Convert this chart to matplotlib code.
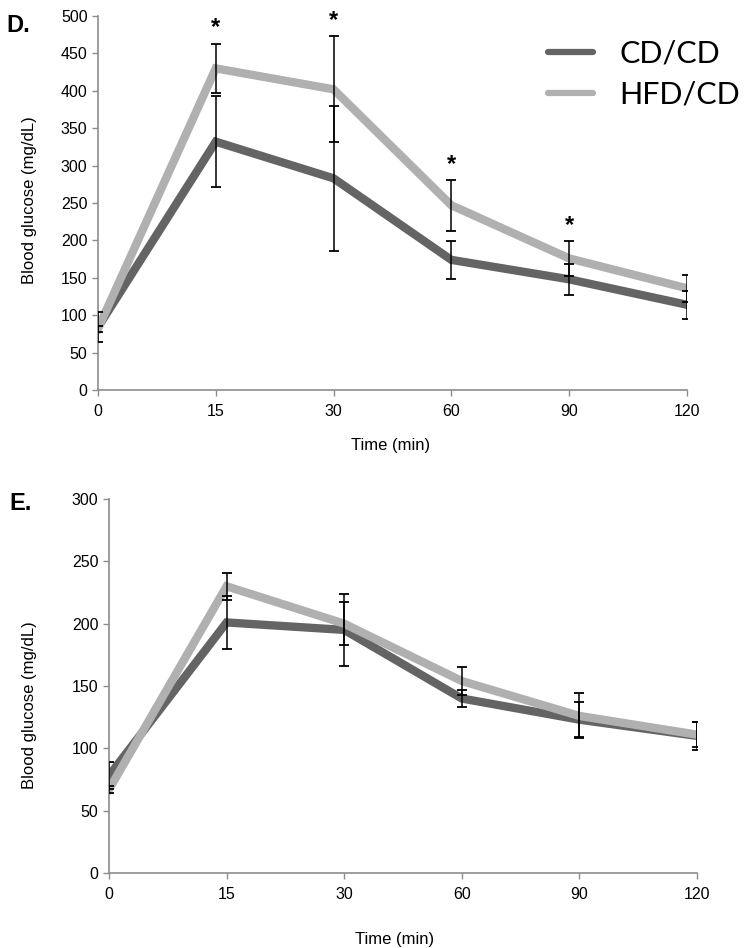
import matplotlib
matplotlib.use("Agg")
import matplotlib.pyplot as plt
from matplotlib.lines import Line2D
import numpy as np

# Glucose tolerance curves
time_labels = ["0", "15", "30", "60", "90", "120"]

d_cd_mean = [84, 332, 283, 174, 148, 114]
d_cd_err = [20, 61, 97, 25, 21, 19]
d_hfd_mean = [82, 430, 402, 247, 176, 136]
d_hfd_err = [4, 33, 71, 34, 23, 18]
d_signif = [False, True, True, True, True, False]

e_cd_mean = [78, 201, 195, 140, 123, 110]
e_cd_err = [11, 21, 29, 7, 14, 11]
e_hfd_mean = [67, 230, 200, 154, 126, 111]
e_hfd_err = [3, 11, 17, 11, 18, 10]

group_names = ["CD/CD", "HFD/CD"]

CD_COLOR = "#646464"
HFD_COLOR = "#b0b0b0"
AXIS_COLOR = "#8c8c8c"
FONT = ["Liberation Sans", "DejaVu Sans"]

plt.rcParams["font.family"] = FONT


def draw_panel(ax, cd_mean, cd_err, hfd_mean, hfd_err, ymax, ystep):
    x = np.arange(len(time_labels))
    ax.plot(x, cd_mean, color=CD_COLOR, lw=6, zorder=2, solid_joinstyle="miter")
    ax.plot(x, hfd_mean, color=HFD_COLOR, lw=6, zorder=2, solid_joinstyle="miter")
    for mean, err in [(cd_mean, cd_err), (hfd_mean, hfd_err)]:
        ax.errorbar(x, mean, yerr=err, fmt="none", ecolor="black",
                    elinewidth=1.1, capsize=3.5, capthick=1.3, zorder=3)

    ax.set_xlim(0, len(time_labels) - 1)
    ax.set_ylim(0, ymax)
    ax.set_xticks(x)
    ax.set_xticklabels(time_labels)
    ax.set_yticks(np.arange(0, ymax + 1, ystep))
    for side in ["top", "right"]:
        ax.spines[side].set_visible(False)
    for side in ["left", "bottom"]:
        ax.spines[side].set_color(AXIS_COLOR)
        ax.spines[side].set_linewidth(1.2)
    ax.tick_params(axis="both", colors=AXIS_COLOR, labelcolor="black",
                   labelsize=11.5, length=4, width=1.0, direction="out")
    ax.tick_params(axis="x", pad=6)
    ax.set_xlabel("Time (min)", fontsize=12)
    ax.set_ylabel("Blood glucose (mg/dL)", fontsize=12)


fig = plt.figure(figsize=(7.45, 9.48), dpi=100)

# Panel D
ax_d = fig.add_axes([0.1315, 0.5886, 0.7905, 0.3945])
draw_panel(ax_d, d_cd_mean, d_cd_err, d_hfd_mean, d_hfd_err, 500, 50)
ax_d.xaxis.set_label_coords(0.497, -0.128)
ax_d.yaxis.set_label_coords(-0.104, 0.508)
for i, sig in enumerate(d_signif):
    if sig:
        top = max(d_cd_mean[i] + d_cd_err[i], d_hfd_mean[i] + d_hfd_err[i])
        ax_d.text(i, top + 21, "*", ha="center", va="center",
                  fontsize=17, fontweight="bold")

handles = [Line2D([], [], color=CD_COLOR, lw=4.5, solid_capstyle="round"),
           Line2D([], [], color=HFD_COLOR, lw=4.5, solid_capstyle="round")]
ax_d.legend(handles, group_names, loc="upper left", bbox_to_anchor=(0.764, 0.938),
            frameon=False, borderpad=0, borderaxespad=0,
            handlelength=1.47, handletextpad=0.88, labelspacing=0.45,
            prop={"family": ["Lato", "DejaVu Sans"], "size": 22})
fig.text(0.009, 0.973, "D.", fontsize=17, fontweight="bold", va="center")

# Panel E
ax_e = fig.add_axes([0.1463, 0.0791, 0.7893, 0.3945])
draw_panel(ax_e, e_cd_mean, e_cd_err, e_hfd_mean, e_hfd_err, 300, 50)
ax_e.xaxis.set_label_coords(0.485, -0.158)
ax_e.yaxis.set_label_coords(-0.122, 0.449)
fig.text(0.013, 0.469, "E.", fontsize=17, fontweight="bold", va="center")

fig.savefig("out.png", dpi=100)
